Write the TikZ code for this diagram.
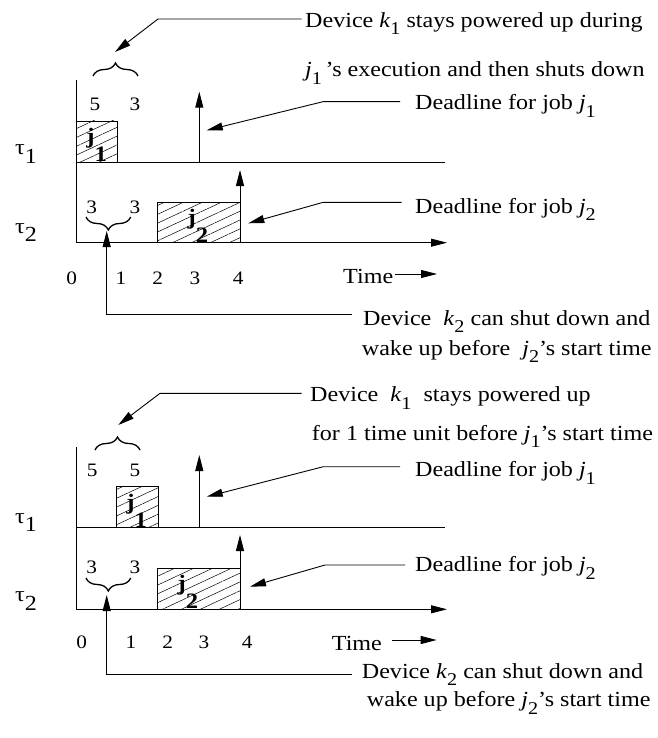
\documentclass[tikz,border=0pt]{standalone}
\usepackage{fontspec}
\setmainfont{Liberation Serif}[FakeStretch=1.12]
\usetikzlibrary{arrows.meta,patterns.meta,decorations.pathreplacing}

% italic letter with a low index, as in k_1
\newcommand{\jsub}[2]{\textit{#1}\raisebox{-0.35em}{\fontsize{18}{18}\selectfont #2}}
% bold job label inside a box
\newcommand{\jbox}[1]{\textbf{j}\raisebox{-0.8em}{\textbf{#1}}}
\newcommand{\tsub}[1]{τ\raisebox{-0.4em}{#1}}

\tikzset{
  txt/.style={anchor=base west, inner sep=0pt, font=\fontsize{21.5}{25}\selectfont},
  num/.style={anchor=base, inner sep=0pt, font=\fontsize{19}{23}\selectfont},
  lbl/.style={inner sep=0pt, font=\fontsize{22}{25}\selectfont},
  ax/.style={line width=0.9pt},
  arr/.style={-{Triangle[length=16pt,width=8pt]}, line width=0.9pt},
  job/.style={draw, line width=0.9pt, pattern={Lines[angle=25,distance=8pt,line width=0.5pt]}},
  brc/.style={decorate, decoration={brace, amplitude=13pt}, line width=1.3pt},
}

\begin{document}
\begin{tikzpicture}[x=1pt,y=-1pt]
    \useasboundingbox (0,0) rectangle (657,738);

    % upper schedule
    \draw[ax] (76,80) -- (76,242.7);
    \draw[ax] (76,162.7) -- (445,162.7);
    \draw[arr] (76,242.7) -- (447,242.7);
    \draw[job] (76,121) rectangle (117.3,162.7);
    \draw[job] (157.7,202.3) rectangle (240,242.7);
    \node[lbl] (ja1) at (96.7,145) {\jbox{1}};
    \node[lbl] (jb1) at (198,226) {\jbox{2}};
    \draw[arr] (199.3,162.7) -- (199.3,91.7);
    \draw[arr] (240,242.7) -- (240,170);
    \draw[brc] (93,76) -- (138,76);
    \draw[brc] (130.7,217) -- (86,217);

    \node[txt] (ta1) at (15,155) {\tsub{1}};
    \node[txt] (tb1) at (15,233) {\tsub{2}};
    \node[num] (pa1) at (95,111) {5};
    \node[num] (pb1) at (135,111) {3};
    \node[num] (qa1) at (91.7,213.3) {3};
    \node[num] (qb1) at (135,213.3) {3};
    \node[num] (x01) at (71.7,284) {0};
    \node[num] (x11) at (121,284) {1};
    \node[num] (x21) at (157.7,284) {2};
    \node[num] (x31) at (195,284) {3};
    \node[num] (x41) at (238.3,284) {4};
    \node[txt] (time1) at (343,283.3) {Time};
    \draw[arr] ([shift={(52,-9.3)}]time1.base west) -- ++(42,0);

    \node[txt] (ka1) at (305,27.3) {Device \jsub{k}{1} stays powered up during};
    \node[txt] (kb1) at (305,76.7) {\jsub{j}{1}\,'s execution and then shuts down};
    \draw[arr] ([shift={(-3.3,-8.3)}]ka1.base west) -- (158,19) -- (115,52);
    \node[txt] (da1) at (415,110) {Deadline for job \jsub{j}{1}};
    \draw[arr] ([shift={(-15,-8.3)}]da1.base west) -- (323,101.7) -- (206.7,130.3);
    \node[txt] (db1) at (415,213.3) {Deadline for job \jsub{j}{2}};
    \draw[arr] ([shift={(-13.3,-11)}]db1.base west) -- (323.3,202.3) -- (248.3,223.3);
    \node[txt] (wa1) at (363,325) {Device \ \jsub{k}{2} can shut down and};
    \node[txt] (wb1) at (361.7,355) {wake up before \ \jsub{j}{2}'s start time};
    \draw[arr] ([shift={(-11.3,-10.7)}]wa1.base west) -- (106.7,314.3) -- (106.7,231);

    % lower schedule
    \draw[ax] (76,447.3) -- (76,609.3);
    \draw[ax] (76,527.7) -- (445,527.7);
    \draw[arr] (76,609.3) -- (447,609.3);
    \draw[job] (116.7,486.7) rectangle (158.3,527.7);
    \draw[job] (157.7,568.3) rectangle (240,609.3);
    \node[lbl] (ja2) at (136.7,511) {\jbox{1}};
    \node[lbl] (jb2) at (188,592) {\jbox{2}};
    \draw[arr] (199.3,527.7) -- (199.3,455);
    \draw[arr] (240,609.3) -- (240,535);
    \draw[brc] (95,450) -- (140,450);
    \draw[brc] (130.7,578) -- (86,578);

    \node[txt] (ta2) at (15,523) {\tsub{1}};
    \node[txt] (tb2) at (15,601.7) {\tsub{2}};
    \node[num] (pa2) at (92.3,476.7) {5};
    \node[num] (pb2) at (135,476.7) {5};
    \node[num] (qa2) at (91.7,573.3) {3};
    \node[num] (qb2) at (135,573.3) {3};
    \node[num] (x02) at (81.7,648.3) {0};
    \node[num] (x12) at (131,648.3) {1};
    \node[num] (x22) at (167.7,648.3) {2};
    \node[num] (x32) at (204,648.3) {3};
    \node[num] (x42) at (247.3,648.3) {4};
    \node[txt] (time2) at (331.7,650) {Time};
    \draw[arr] ([shift={(60,-10)}]time2.base west) -- ++(45,0);

    \node[txt] (ka2) at (310,401.7) {Device \ \jsub{k}{1} \ stays powered up};
    \node[txt] (kb2) at (311.7,440) {for 1 time unit before \jsub{j}{1}'s start time};
    \draw[arr] ([shift={(-8.3,-8.4)}]ka2.base west) -- (160,393.3) -- (118.3,425);
    \node[txt] (da2) at (415,476.7) {Deadline for job \jsub{j}{1}};
    \draw[arr] ([shift={(-15,-10)}]da2.base west) -- (323.3,466.7) -- (206.7,496.7);
    \node[txt] (db2) at (415,571.7) {Deadline for job \jsub{j}{2}};
    \draw[arr] ([shift={(-10,-6.7)}]db2.base west) -- (325,565) -- (250,586.7);
    \node[txt] (wa2) at (361.7,678.3) {Device \jsub{k}{2} can shut down and};
    \node[txt] (wb2) at (366.7,706.7) {wake up before \jsub{j}{2}'s start time};
    \draw[arr] ([shift={(-10,-4.3)}]wa2.base west) -- (106.7,674) -- (106.7,595);

\end{tikzpicture}
\end{document}
